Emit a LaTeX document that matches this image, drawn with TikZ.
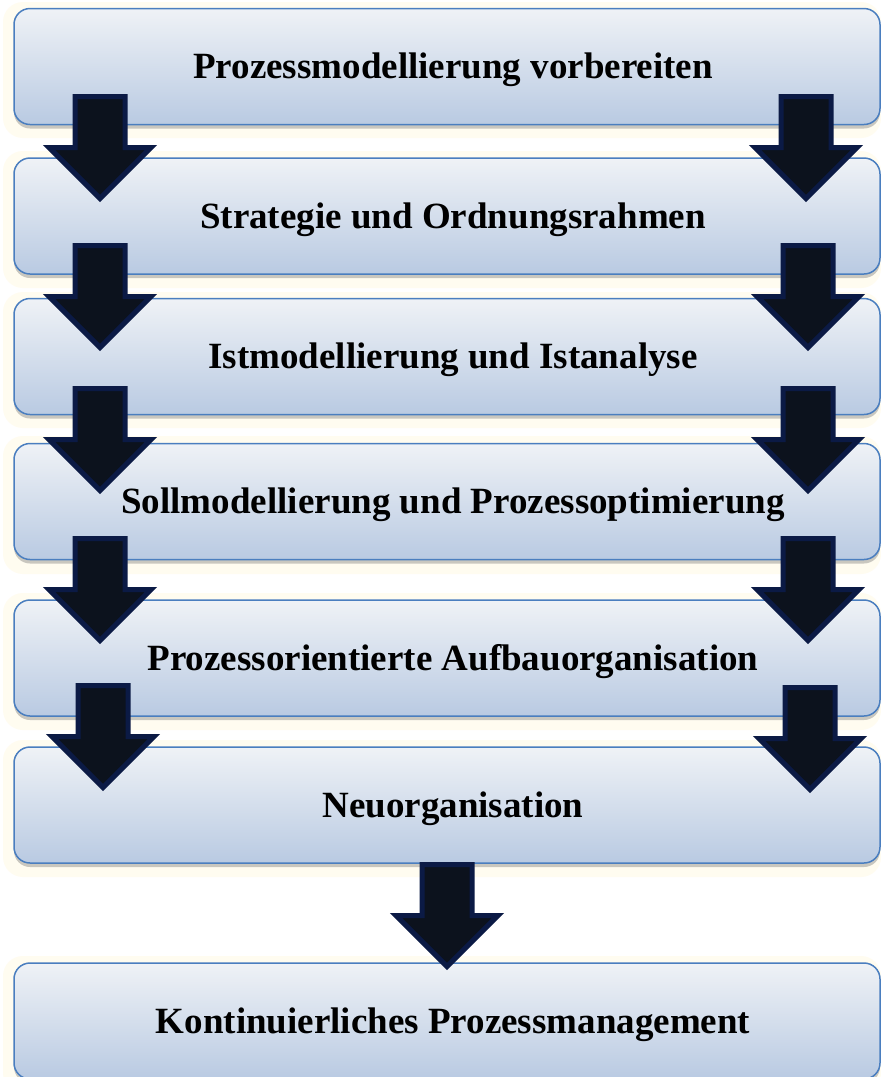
\documentclass[tikz,border=0pt]{standalone}
\usepackage{fontspec}
\setmainfont{Liberation Serif}
\usetikzlibrary{shadows}
\definecolor{boxtop}{HTML}{EFF2F6}
\definecolor{boxmid}{HTML}{DCE3EE}
\definecolor{boxbot}{HTML}{B9CAE2}
\definecolor{boxline}{HTML}{4A7EBF}
\definecolor{arrowfill}{HTML}{0C121D}
\definecolor{arrowline}{HTML}{0B1A45}
\definecolor{glow}{HTML}{FFFCF0}
\begin{document}
\begin{tikzpicture}[x=1pt,y=-1pt,
  stagebox/.style={draw=boxline, line width=1.5pt, rounded corners=16pt,
    minimum width=866pt, minimum height=116pt, inner sep=0pt,
    top color=boxtop, middle color=boxmid, bottom color=boxbot,
    drop shadow={shadow xshift=0pt, shadow yshift=-4pt, opacity=0.35, fill=black!60}},
  stagetext/.style={anchor=base, inner sep=0pt,
    font=\fontsize{37}{40}\selectfont\bfseries},
  arrowbody/.style={fill=arrowfill, draw=arrowline, line width=5pt, miter limit=10},
  blockarrow/.pic={
    \filldraw[arrowbody] (-25,2.5) -- (25,2.5) -- (25,53.5) -- (51,53.5)
      -- (0,104.5) -- (-51,53.5) -- (-25,53.5) -- cycle;
  }]
\useasboundingbox (0,0) rectangle (881,1077);
\fill[white] (0,0) rectangle (881,1077);

% soft cream halo behind every stage
\foreach \t/\b in {9/124,158/274,299/414,443/560,600/716,747/863,963/1079}
  \fill[glow, rounded corners=20pt] (3,\t-7) rectangle (881,\b+14);

% stages
\node[stagebox] (s1) at (447,66.5) {};
\node[stagebox] (s2) at (447,216) {};
\node[stagebox] (s3) at (447,356.5) {};
\node[stagebox] (s4) at (447,501.5) {};
\node[stagebox] (s5) at (447,658) {};
\node[stagebox] (s6) at (447,805) {};
\node[stagebox] (s7) at (447,1021) {};

\node[stagetext] (t1) at (453,78.5) {Prozessmodellierung vorbereiten};
\node[stagetext] (t2) at (453,228) {Strategie und Ordnungsrahmen};
\node[stagetext] (t3) at (453,368.5) {Istmodellierung und Istanalyse};
\node[stagetext] (t4) at (453,513.5) {Sollmodellierung und Prozessoptimierung};
\node[stagetext] (t5) at (453,670) {Prozessorientierte Aufbauorganisation};
\node[stagetext] (t6) at (453,817) {Neuorganisation};
\node[stagetext] (t7) at (453,1033) {Kontinuierliches Prozessmanagement};

% block arrows between the stages
\pic at (100,94) {blockarrow};
\pic at (100,243) {blockarrow};
\pic at (100,386) {blockarrow};
\pic at (100,536) {blockarrow};
\pic at (103,683) {blockarrow};
\pic at (806,94) {blockarrow};
\pic at (808,243) {blockarrow};
\pic at (808,386) {blockarrow};
\pic at (808,536) {blockarrow};
\pic at (810,685) {blockarrow};
\pic at (447,862) {blockarrow};
\end{tikzpicture}
\end{document}
